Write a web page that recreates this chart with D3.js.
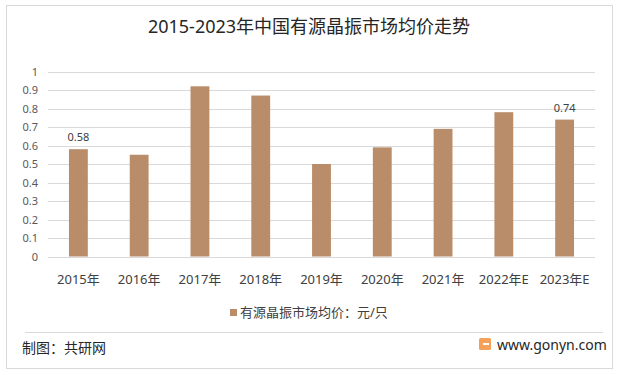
<!DOCTYPE html>
<html>
<head>
<meta charset="utf-8">
<script src="https://cdn.jsdelivr.net/npm/d3@7"></script>
<style>
  body { margin: 0; background: #fff; }
  svg { display: block; font-family: "Noto Sans", "Noto Sans CJK SC", sans-serif; }
</style>
</head>
<body>
<div id="chart"></div>
<script>
const years = ["2015年", "2016年", "2017年", "2018年", "2019年", "2020年", "2021年", "2022年E", "2023年E"];
const prices = [0.58, 0.55, 0.92, 0.87, 0.50, 0.59, 0.69, 0.78, 0.74];
const yTicks = [0, 0.1, 0.2, 0.3, 0.4, 0.5, 0.6, 0.7, 0.8, 0.9, 1];
const labelled = ["2015年", "2023年E"];

const width = 618, height = 375;
const svg = d3.select("#chart").append("svg")
    .attr("width", width)
    .attr("height", height);

// outer frame
svg.append("rect")
    .attr("x", 6.5).attr("y", 5.5)
    .attr("width", 606).attr("height", 363)
    .attr("fill", "#fff")
    .attr("stroke", "#d9d9d9");

svg.append("text")
    .attr("x", 309).attr("y", 33)
    .attr("text-anchor", "middle")
    .attr("font-size", 18)
    .attr("fill", "#262626")
    .text("2015-2023年中国有源晶振市场均价走势");

const x = d3.scaleBand()
    .domain(years)
    .range([48, 595])
    .paddingInner(0.69)
    .paddingOuter(0.345);

const y = d3.scaleLinear()
    .domain([0, 1])
    .range([256.5, 71.5]);

// gridlines
svg.append("g")
    .selectAll("line")
    .data(yTicks)
    .enter()
    .append("line")
    .attr("x1", 48).attr("x2", 595)
    .attr("y1", d => Math.round(y(d)) + 0.5)
    .attr("y2", d => Math.round(y(d)) + 0.5)
    .attr("stroke", "#d9d9d9");

const yAxis = svg.append("g")
    .attr("transform", "translate(38,0)")
    .call(d3.axisLeft(y).tickValues(yTicks).tickSize(0).tickPadding(0).tickFormat(d3.format("~g")));
yAxis.select(".domain").remove();
yAxis.selectAll("text")
    .attr("font-size", 11)
    .attr("fill", "#595959")
    .attr("font-family", "\"Noto Sans\", sans-serif");

svg.selectAll(".bar")
    .data(prices)
    .enter()
    .append("rect")
    .attr("class", "bar")
    .attr("x", (d, i) => x(years[i]))
    .attr("y", d => y(d))
    .attr("width", x.bandwidth())
    .attr("height", d => y(0) - y(d))
    .attr("fill", "#b98c6a");

svg.selectAll(".val")
    .data(prices.filter((d, i) => labelled.includes(years[i])))
    .enter()
    .append("text")
    .attr("x", d => x(years[prices.indexOf(d)]) + x.bandwidth() / 2)
    .attr("y", d => y(d) - 8)
    .attr("text-anchor", "middle")
    .attr("font-size", 11)
    .attr("fill", "#404040")
    .text(d => d3.format(".2f")(d));

const xAxis = svg.append("g")
    .attr("transform", "translate(0,256)")
    .call(d3.axisBottom(x).tickSize(0).tickPadding(19));
xAxis.select(".domain").remove();
xAxis.selectAll("text")
    .attr("font-size", 13)
    .attr("font-family", "\"Noto Sans\", \"Noto Sans CJK SC\", sans-serif")
    .attr("fill", "#404040");

// legend
svg.append("rect")
    .attr("x", 230).attr("y", 309)
    .attr("width", 7).attr("height", 7)
    .attr("fill", "#b98c6a");
svg.append("text")
    .attr("x", 240).attr("y", 317)
    .attr("font-size", 13)
    .attr("fill", "#404040")
    .text("有源晶振市场均价：元/只");

// footer
svg.append("line")
    .attr("x1", 25).attr("x2", 603)
    .attr("y1", 332.5).attr("y2", 332.5)
    .attr("stroke", "#d9d9d9");

svg.append("text")
    .attr("x", 22).attr("y", 353)
    .attr("font-size", 14)
    .attr("fill", "#262626")
    .text("制图：共研网");

const logo = svg.append("g").attr("transform", "translate(479,338)");
logo.append("rect")
    .attr("width", 12).attr("height", 12).attr("rx", 1.5)
    .attr("fill", "#f4a259");
logo.append("rect")
    .attr("x", 4).attr("y", 5).attr("width", 6).attr("height", 2)
    .attr("fill", "#fff");

svg.append("text")
    .attr("x", 497).attr("y", 350)
    .attr("font-size", 14)
    .attr("fill", "#262626")
    .text("www.gonyn.com");
</script>
</body>
</html>
